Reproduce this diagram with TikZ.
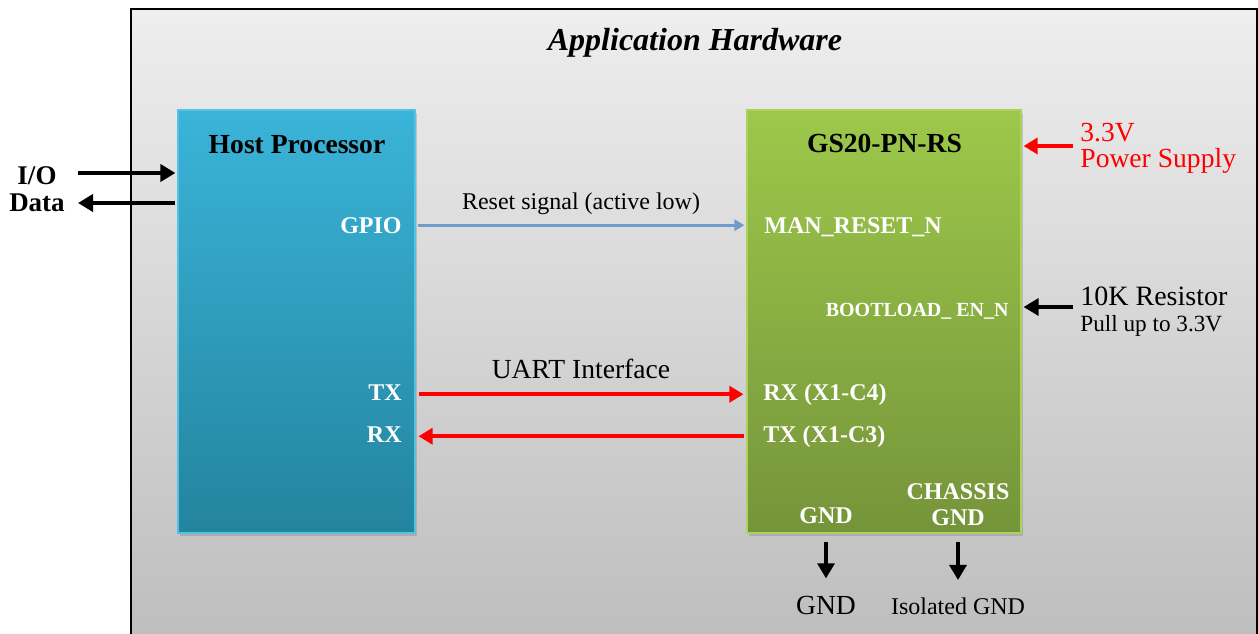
\documentclass[tikz,border=0pt]{standalone}
\usepackage{fontspec}
\setmainfont{Liberation Serif}
\usetikzlibrary{arrows.meta,shadows}

\definecolor{bgTop}{HTML}{EEEEEE}
\definecolor{bgBot}{HTML}{BCBCBC}
\definecolor{hostTop}{HTML}{3AB4D9}
\definecolor{hostBot}{HTML}{23849E}
\definecolor{hostEdge}{HTML}{55C2E2}
\definecolor{gsTop}{HTML}{9DC84A}
\definecolor{gsBot}{HTML}{75943A}
\definecolor{gsEdge}{HTML}{AAD25C}
\definecolor{resetBlue}{HTML}{6F9CCB}
\definecolor{uartRed}{HTML}{FF0000}

\begin{document}
\begin{tikzpicture}
[x=0.5pt,y=-0.5pt,
  frameDecorate/.style={draw=black,line width=0.7pt,top color=bgTop,bottom color=bgBot},%
  boxDecorate/.style={minimum width=#1,minimum height=211.5pt,inner sep=0pt,line width=0.6pt,
    drop shadow={shadow xshift=1.2pt,shadow yshift=-1.5pt,opacity=0.35}},%
  hostDecorate/.style={boxDecorate=118.5pt,draw=hostEdge,top color=hostTop,bottom color=hostBot},%
  gsDecorate/.style={boxDecorate=137pt,draw=gsEdge,top color=gsTop,bottom color=gsBot},%
  titleDecorate/.style={inner sep=0pt,anchor=base,font=\fontsize{13.8}{15}\selectfont\bfseries},%
  pinDecorate/.style={inner sep=0pt,text=white,font=\fontsize{12}{13}\selectfont\bfseries},%
  noteDecorate/.style={inner sep=0pt,anchor=base west,font=\fontsize{13.8}{15}\selectfont},%
  blackArrow/.style={line width=2pt,-{Triangle[length=7.5pt,width=8.5pt]}},%
  redArrow/.style={draw=uartRed,line width=2.2pt,-{Triangle[length=7pt,width=8pt]}},%
  resetArrow/.style={draw=resetBlue,line width=1.4pt,-{Triangle[length=5pt,width=5.5pt]}}]
\useasboundingbox (0,0) rectangle (1258,633);
%% application frame
\draw[frameDecorate] (131,9) rectangle (1257,660);
\node (appTitle) [inner sep=0pt,anchor=base,font=\fontsize{16}{18}\selectfont\bfseries\itshape]
  at (695,50) {Application Hardware};
%% the two blocks
\node (host) [hostDecorate] at (296.5,321.5) {};
\node (gs) [gsDecorate] at (884,321.5) {};
\node (hostTitle) [titleDecorate] at (297,153) {Host Processor};
\node (gsTitle) [titleDecorate] at (884.5,152) {GS20-PN-RS};
%% pins of the host
\foreach \nodename/\x/\y/\txt in {gpio/402/233/GPIO, hostTx/402/400/TX, hostRx/402/442/RX}
{
  \node (\nodename) [pinDecorate,anchor=base east] at (\x,\y) {\txt};
}
%% pins of the module
\foreach \nodename/\x/\y/\txt in {
  manReset/764/233/{MAN\_RESET\_N}, gsRx/763/400/{RX (X1-C4)}, gsTx/763/442/{TX (X1-C3)}}
{
  \node (\nodename) [pinDecorate,anchor=base west] at (\x,\y) {\txt};
}
\node (bootEn) [pinDecorate,anchor=base east,font=\fontsize{10}{12}\selectfont\bfseries] at (1009,316) {BOOTLOAD\_ EN\_N};
\node (gndPin) [pinDecorate,anchor=base] at (826,523) {GND};
\node (chassisPin) [pinDecorate,anchor=north,align=center] at (958,483) {CHASSIS\\GND};
%% outside labels
\node (ioLabel) [inner sep=0pt,anchor=north,align=center,
  font=\fontsize{13.5}{13.5}\selectfont\bfseries] at (37,166) {I/O\\Data};
\node (supplyV) [noteDecorate,text=uartRed] at (1080,141) {3.3V};
\node (supplyText) [noteDecorate,text=uartRed] at (1080,167) {Power Supply};
\node (resistor) [noteDecorate,font=\fontsize{14}{16}\selectfont] at (1080,305) {10K Resistor};
\node (pullUp) [noteDecorate,font=\fontsize{11.6}{13}\selectfont] at (1080,331) {Pull up to 3.3V};
\node (gndOut) [noteDecorate,anchor=base] at (826,614) {GND};
\node (isoOut) [noteDecorate,anchor=base,font=\fontsize{12}{14}\selectfont] at (958,614) {Isolated GND};
%% free ends
\coordinate (ioIn) at (78,173);
\coordinate (ioOut) at (78,203);
\coordinate (pwrIn) at (1073,146);
\coordinate (resIn) at (1073,307);
%% edges or lines
\draw[blackArrow,shorten >=1pt] (ioIn) -- (ioIn -| host.west);
\draw[blackArrow,shorten <=1pt] (ioOut -| host.west) -- (ioOut);
\draw[resetArrow,shorten <=1pt,shorten >=1pt] (gpio -| host.east) -- (gpio -| gs.west)
  node[midway,above=4.6pt,inner sep=0pt,text=black,font=\fontsize{12}{14}\selectfont] (resetNote) {Reset signal (active low)};
\draw[redArrow,shorten <=1.5pt,shorten >=1.5pt] (gsRx -| host.east) -- (gsRx -| gs.west)
  node[midway,above=6.5pt,inner sep=0pt,text=black,font=\fontsize{13.8}{15}\selectfont] (uartNote) {UART Interface};
\draw[redArrow,shorten <=1pt,shorten >=1.5pt] (gsTx -| gs.west) -- (gsTx -| host.east);
\draw[redArrow,line width=1.8pt,shorten >=1pt] (pwrIn) -- (pwrIn -| gs.east);
\draw[blackArrow,line width=1.6pt,shorten >=1pt] (resIn) -- (resIn -| gs.east);
\draw[blackArrow,line width=1.6pt,shorten <=4pt,shorten >=8.5pt] (gndPin |- gs.south) -- (gndOut);
\draw[blackArrow,line width=1.6pt,shorten <=4pt,shorten >=8.5pt] (chassisPin |- gs.south) -- (isoOut);
\end{tikzpicture}
\end{document}
